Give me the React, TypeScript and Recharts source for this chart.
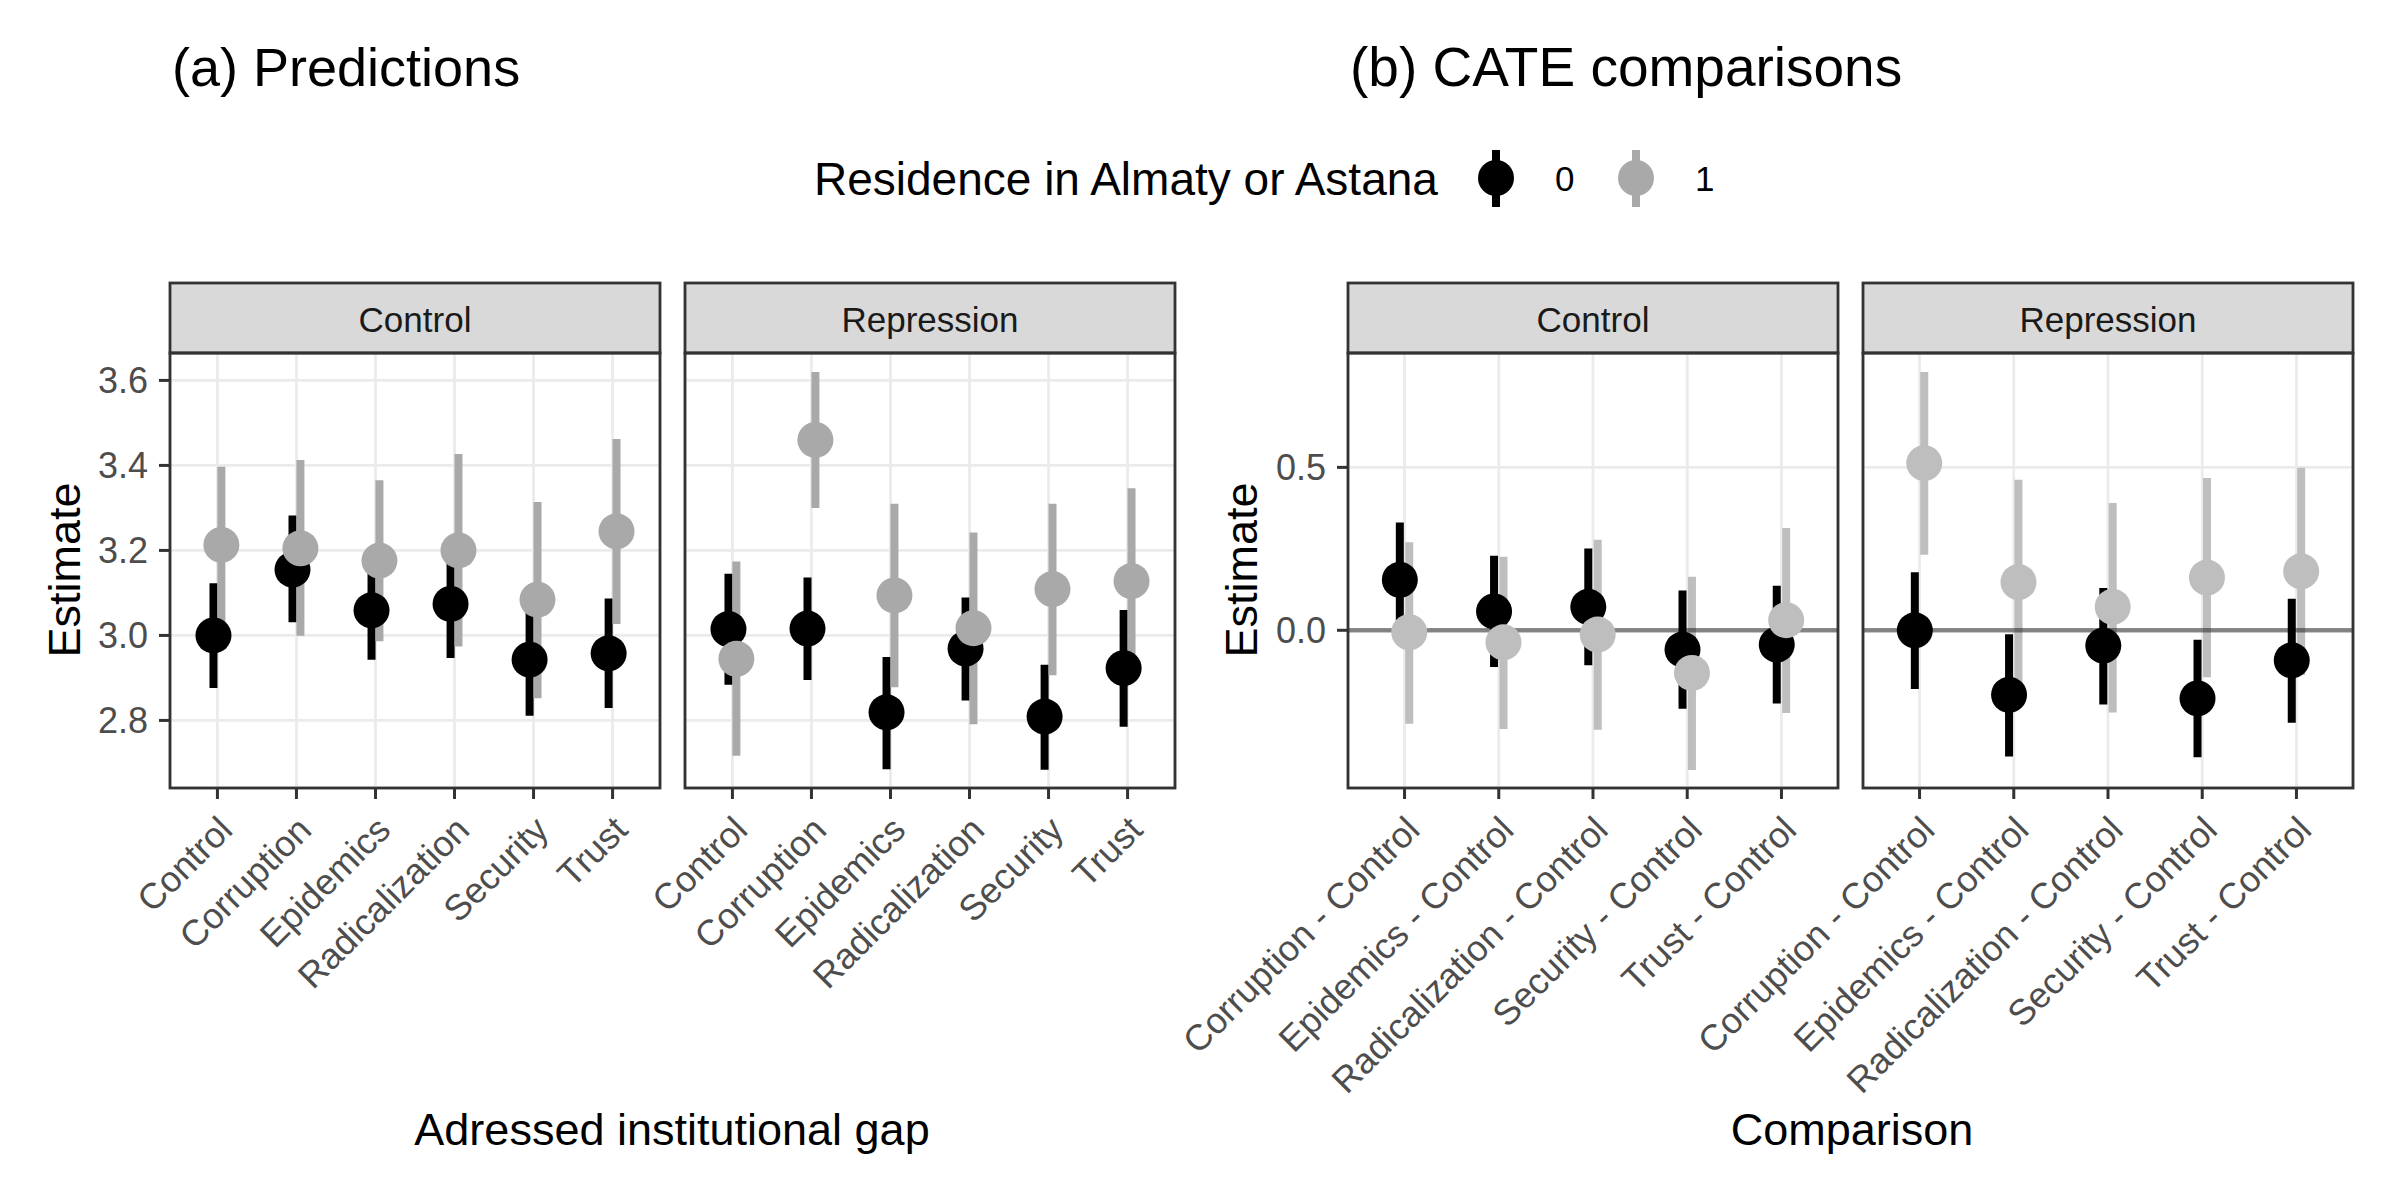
import React from "react";
import {
  ComposedChart,
  Scatter,
  ErrorBar,
  XAxis,
  YAxis,
  CartesianGrid,
  ReferenceLine,
} from "recharts";

// categories
const predCats = ["Control", "Corruption", "Epidemics", "Radicalization", "Security", "Trust"];
const compCats = [
  "Corruption - Control",
  "Epidemics - Control",
  "Radicalization - Control",
  "Security - Control",
  "Trust - Control",
];

// (a) Predictions, Control
const predCtrlEst0 = [3.0, 3.155, 3.059, 3.074, 2.943, 2.958];
const predCtrlLo0 = [2.876, 3.031, 2.943, 2.947, 2.811, 2.829];
const predCtrlHi0 = [3.123, 3.282, 3.175, 3.2, 3.075, 3.087];
const predCtrlEst1 = [3.213, 3.205, 3.176, 3.2, 3.084, 3.245];
const predCtrlLo1 = [3.03, 2.999, 2.986, 2.974, 2.852, 3.027];
const predCtrlHi1 = [3.397, 3.413, 3.365, 3.427, 3.314, 3.462];

// (a) Predictions, Repression
const predRepEst0 = [3.015, 3.016, 2.819, 2.969, 2.809, 2.923];
const predRepLo0 = [2.884, 2.895, 2.685, 2.847, 2.684, 2.785];
const predRepHi0 = [3.145, 3.136, 2.949, 3.089, 2.931, 3.06];
const predRepEst1 = [2.945, 3.46, 3.094, 3.017, 3.109, 3.128];
const predRepLo1 = [2.717, 3.3, 2.878, 2.791, 2.906, 2.91];
const predRepHi1 = [3.174, 3.62, 3.31, 3.242, 3.31, 3.346];

// (b) CATE comparisons, Control
const compCtrlEst0 = [0.155, 0.058, 0.072, -0.059, -0.044];
const compCtrlLo0 = [-0.021, -0.113, -0.107, -0.241, -0.225];
const compCtrlHi0 = [0.331, 0.229, 0.251, 0.122, 0.137];
const compCtrlEst1 = [-0.006, -0.037, -0.013, -0.131, 0.031];
const compCtrlLo1 = [-0.287, -0.303, -0.305, -0.429, -0.254];
const compCtrlHi1 = [0.27, 0.226, 0.278, 0.164, 0.314];

// (b) CATE comparisons, Repression
const compRepEst0 = [0.0, -0.198, -0.047, -0.209, -0.092];
const compRepLo0 = [-0.18, -0.387, -0.228, -0.39, -0.284];
const compRepHi0 = [0.178, -0.012, 0.13, -0.029, 0.097];
const compRepEst1 = [0.513, 0.148, 0.072, 0.162, 0.181];
const compRepLo1 = [0.232, -0.166, -0.252, -0.144, -0.137];
const compRepHi1 = [0.793, 0.462, 0.391, 0.467, 0.499];

// axis ticks
const predTicks = [2.8, 3.0, 3.2, 3.4, 3.6];
const predMinor = [2.7, 2.9, 3.1, 3.3, 3.5];
const compTicks = [0, 0.5];
const compMinor = [-0.25, 0.25, 0.75];

const FONT = '"Liberation Sans", Arial, Helvetica, sans-serif';
const PLOT_TOP = 353;
const PLOT_H = 435;
const PANEL_W = 490;
const EXT = 280;
const XAXIS_H = 380;
const DODGE = 0.05;

function rows(est: number[], lo: number[], hi: number[], shift: number) {
  return est.map((y, i) => ({ x: i + shift, y, err: [y - lo[i], hi[i] - y] }));
}

function XTick(props: any) {
  const { x, y, payload, cats } = props;
  const tx = x + 17;
  const ty = y + 31;
  return (
    <text
      x={tx}
      y={ty}
      textAnchor="end"
      transform={`rotate(-45 ${tx} ${ty})`}
      fill="#4D4D4D"
      fontSize={36}
      fontFamily={FONT}
    >
      {cats[payload.value]}
    </text>
  );
}

interface PanelProps {
  left: number;
  cats: string[];
  s0: { x: number; y: number; err: number[] }[];
  s1: { x: number; y: number; err: number[] }[];
  domain: [number, number];
  ticks: number[];
  minor: number[];
  showY: boolean;
  gray: string;
  zero?: boolean;
}

function Panel({ left, cats, s0, s1, domain, ticks, minor, showY, gray, zero }: PanelProps) {
  const n = cats.length;
  const dot = (fill: string) => (p: any) => <circle cx={p.cx} cy={p.cy} r={18} fill={fill} />;
  return (
    <div style={{ position: "absolute", left: left - EXT, top: PLOT_TOP - 10 }}>
      <ComposedChart
        width={EXT + PANEL_W + 10}
        height={10 + PLOT_H + XAXIS_H}
        margin={{ top: 10, right: 10, bottom: 0, left: showY ? EXT - 100 : EXT }}
      >
        <CartesianGrid
          vertical={false}
          stroke="#EBEBEB"
          strokeWidth={1.4}
          horizontalCoordinatesGenerator={({ yAxis }: any) =>
            typeof yAxis?.scale === "function" ? minor.map((v) => yAxis.scale(v)) : []
          }
        />
        <CartesianGrid stroke="#EBEBEB" strokeWidth={2.8} />
        <XAxis
          type="number"
          dataKey="x"
          domain={[-0.6, n - 0.4]}
          ticks={cats.map((_, i) => i)}
          allowDataOverflow
          interval={0}
          axisLine={false}
          tickLine={{ stroke: "#333333", strokeWidth: 3 }}
          tickSize={11}
          tickMargin={2}
          height={XAXIS_H}
          tick={(p: any) => <XTick {...p} cats={cats} />}
        />
        <YAxis
          type="number"
          dataKey="y"
          domain={domain}
          ticks={ticks}
          allowDataOverflow
          hide={!showY}
          width={100}
          axisLine={false}
          tickLine={{ stroke: "#333333", strokeWidth: 3 }}
          tickSize={11}
          tickMargin={11}
          tickFormatter={(v: number) => v.toFixed(1)}
          tick={{ fill: "#4D4D4D", fontSize: 36, fontFamily: FONT }}
        />
        <Scatter data={s0} shape={() => <g />} isAnimationActive={false}>
          <ErrorBar dataKey="err" direction="y" width={0} stroke="#000000" strokeWidth={8} isAnimationActive={false} />
        </Scatter>
        <Scatter data={s1} shape={() => <g />} isAnimationActive={false}>
          <ErrorBar dataKey="err" direction="y" width={0} stroke={gray} strokeWidth={8} isAnimationActive={false} />
        </Scatter>
        <Scatter data={s0} shape={dot("#000000")} isAnimationActive={false} />
        <Scatter data={s1} shape={dot(gray)} isAnimationActive={false} />
        {zero && <ReferenceLine y={0} stroke="#000000" strokeOpacity={0.45} strokeWidth={4.5} />}
      </ComposedChart>
    </div>
  );
}

const panelLefts = [170, 685, 1348, 1863];
const stripLabels = ["Control", "Repression", "Control", "Repression"];

export default function App() {
  const predDomain: [number, number] = [2.641, 3.6645];
  const compDomain: [number, number] = [-0.484, 0.851];
  const grayA = "#A9A9A9";
  const grayB = "#BEBEBE";

  return (
    <div
      style={{
        position: "absolute",
        left: 0,
        top: 0,
        width: 2400,
        height: 1200,
        background: "#FFFFFF",
        overflow: "hidden",
        fontFamily: FONT,
      }}
    >
      <Panel
        left={panelLefts[0]}
        cats={predCats}
        s0={rows(predCtrlEst0, predCtrlLo0, predCtrlHi0, -DODGE)}
        s1={rows(predCtrlEst1, predCtrlLo1, predCtrlHi1, DODGE)}
        domain={predDomain}
        ticks={predTicks}
        minor={predMinor}
        showY
        gray={grayA}
      />
      <Panel
        left={panelLefts[1]}
        cats={predCats}
        s0={rows(predRepEst0, predRepLo0, predRepHi0, -DODGE)}
        s1={rows(predRepEst1, predRepLo1, predRepHi1, DODGE)}
        domain={predDomain}
        ticks={predTicks}
        minor={predMinor}
        showY={false}
        gray={grayA}
      />
      <Panel
        left={panelLefts[2]}
        cats={compCats}
        s0={rows(compCtrlEst0, compCtrlLo0, compCtrlHi0, -DODGE)}
        s1={rows(compCtrlEst1, compCtrlLo1, compCtrlHi1, DODGE)}
        domain={compDomain}
        ticks={compTicks}
        minor={compMinor}
        showY
        gray={grayB}
        zero
      />
      <Panel
        left={panelLefts[3]}
        cats={compCats}
        s0={rows(compRepEst0, compRepLo0, compRepHi0, -DODGE)}
        s1={rows(compRepEst1, compRepLo1, compRepHi1, DODGE)}
        domain={compDomain}
        ticks={compTicks}
        minor={compMinor}
        showY={false}
        gray={grayB}
        zero
      />

      <svg
        width={2400}
        height={1200}
        style={{ position: "absolute", left: 0, top: 0, pointerEvents: "none" }}
        fontFamily={FONT}
      >
        <text x={172} y={86} fontSize={54} fill="#000">(a) Predictions</text>
        <text x={1350} y={86} fontSize={55} fill="#000">(b) CATE comparisons</text>

        {/* legend */}
        <text x={814} y={195} fontSize={46} fill="#000">Residence in Almaty or Astana</text>
        <line x1={1496} x2={1496} y1={150} y2={207} stroke="#000" strokeWidth={8} />
        <circle cx={1496} cy={178} r={18} fill="#000" />
        <text x={1555} y={191} fontSize={35} fill="#000">0</text>
        <line x1={1636} x2={1636} y1={150} y2={207} stroke={grayA} strokeWidth={8} />
        <circle cx={1636} cy={178} r={18} fill={grayA} />
        <text x={1695} y={191} fontSize={35} fill="#000">1</text>

        {/* strips and panel borders */}
        {panelLefts.map((l, i) => (
          <g key={i}>
            <rect x={l} y={283} width={PANEL_W} height={70} fill="#D9D9D9" stroke="#333333" strokeWidth={2.8} />
            <text x={l + PANEL_W / 2} y={332} textAnchor="middle" fontSize={35} fill="#1A1A1A">
              {stripLabels[i]}
            </text>
            <rect x={l} y={PLOT_TOP} width={PANEL_W} height={PLOT_H} fill="none" stroke="#333333" strokeWidth={2.8} />
          </g>
        ))}

        {/* axis titles */}
        <text x={80} y={570} fontSize={45} textAnchor="middle" transform="rotate(-90 80 570)" fill="#000">
          Estimate
        </text>
        <text x={1257} y={570} fontSize={45} textAnchor="middle" transform="rotate(-90 1257 570)" fill="#000">
          Estimate
        </text>
        <text x={672} y={1145} fontSize={45} textAnchor="middle" fill="#000">Adressed institutional gap</text>
        <text x={1852} y={1145} fontSize={45} textAnchor="middle" fill="#000">Comparison</text>
      </svg>
    </div>
  );
}
